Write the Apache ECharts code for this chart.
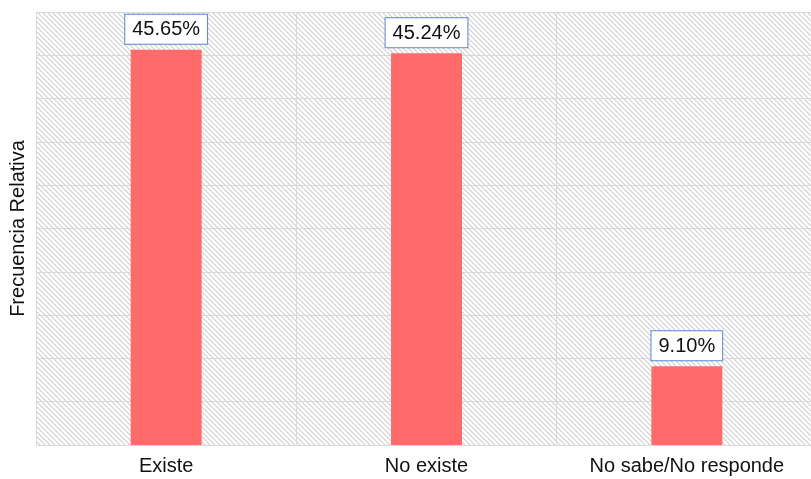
<!DOCTYPE html>
<html>
<head>
<meta charset="utf-8">
<script src="https://cdn.jsdelivr.net/npm/echarts@6/dist/echarts.min.js"></script>
<style>
html,body{margin:0;padding:0;background:#fff;overflow:hidden;width:811px;height:479px;}
#chart{width:817px;height:479px;}
</style>
</head>
<body>
<div id="chart"></div>
<script>
const categories = ['Existe', 'No existe', 'No sabe/No responde'];
const values = [45.65, 45.24, 9.10];
const yMin = 0, yMax = 50, yInterval = 5;

function makeHatch() {
  const s = 5;
  const c = document.createElement('canvas');
  c.width = s; c.height = s;
  const ctx = c.getContext('2d');
  ctx.fillStyle = '#ffffff';
  ctx.fillRect(0, 0, s, s);
  ctx.strokeStyle = '#cfcfcf';
  ctx.lineWidth = 1.1;
  ctx.beginPath();
  ctx.moveTo(-1, -1); ctx.lineTo(s + 1, s + 1);
  ctx.moveTo(-1 - s, -1); ctx.lineTo(1, s + 1);
  ctx.moveTo(s - 1, -1); ctx.lineTo(2 * s + 1, s + 1);
  ctx.stroke();
  return c;
}

const chart = echarts.init(document.getElementById('chart'), null, {renderer: 'canvas'});
const font = 'Liberation Sans, Arial, Helvetica, sans-serif';
chart.setOption({
  animation: false,
  grid: {
    left: 35, top: 12, right: 0, bottom: 34,
    show: true,
    backgroundColor: {image: makeHatch(), repeat: 'repeat'},
    borderWidth: 0
  },
  xAxis: {
    type: 'category',
    data: categories,
    axisLine: {show: false},
    axisTick: {show: false},
    splitLine: {show: true, lineStyle: {color: '#d9d9d9', width: 1}},
    axisLabel: {color: '#111', fontSize: 20, fontFamily: font, margin: 11, interval: 0}
  },
  yAxis: {
    type: 'value',
    min: yMin, max: yMax, interval: yInterval,
    name: 'Frecuencia Relativa',
    nameLocation: 'middle',
    nameGap: 8,
    nameTextStyle: {color: '#111', fontSize: 20, fontFamily: font},
    axisLine: {show: false},
    axisTick: {show: false},
    axisLabel: {show: false},
    splitLine: {show: true, lineStyle: {color: '#d9d9d9', width: 1}}
  },
  series: [{
    type: 'bar',
    data: values,
    barWidth: 71,
    itemStyle: {color: '#ff6b6b'},
    label: {
      show: true,
      position: 'top',
      distance: 6,
      formatter: p => p.value.toFixed(2) + '%',
      color: '#111',
      fontSize: 20,
      fontFamily: font,
      backgroundColor: '#ffffff',
      borderColor: '#5b84d6',
      borderWidth: 1,
      padding: [5, 7, 4, 7]
    }
  }]
});
</script>
</body>
</html>
